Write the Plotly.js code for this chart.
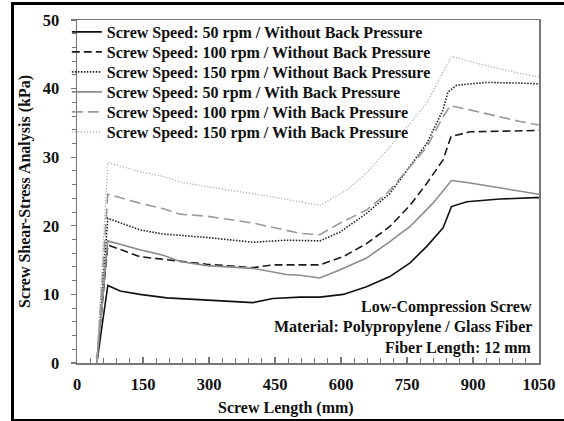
<!DOCTYPE html>
<html>
<head>
<meta charset="utf-8">
<script src="https://cdn.plot.ly/plotly-3.0.1.min.js"></script>
<style>
  html, body { margin: 0; padding: 0; background: #fff; }
  #wrap { position: relative; width: 564px; height: 421px; overflow: hidden; }
  #chart { position: absolute; left: 0; top: 0; width: 564px; height: 421px; }
  #frame { position: absolute; left: 11px; top: 2px; width: 600px; height: 414px; border: 3px solid #000; pointer-events: none; }
</style>
</head>
<body>
<div id="wrap">
  <div id="chart"></div>
  <div id="frame"></div>
</div>
<script>
// Series names
const seriesNames = [
  "Screw Speed: 50 rpm / Without Back Pressure",
  "Screw Speed: 100 rpm / Without Back Pressure",
  "Screw Speed: 150 rpm / Without Back Pressure",
  "Screw Speed: 50 rpm / With Back Pressure",
  "Screw Speed: 100 rpm / With Back Pressure",
  "Screw Speed: 150 rpm / With Back Pressure"
];

// Screw length (mm) and shear stress (kPa) for each series
const x50wo  = [45, 70, 98, 143, 204, 300, 400, 445, 507, 552, 605, 658, 711, 757, 795, 832, 851, 886, 961, 1041, 1050];
const y50wo  = [0, 11.3, 10.5, 10.0, 9.5, 9.2, 8.8, 9.4, 9.6, 9.6, 10.0, 11.1, 12.6, 14.6, 17.0, 19.7, 22.8, 23.5, 23.9, 24.1, 24.1];

const x100wo = [45, 70, 143, 234, 295, 400, 445, 552, 605, 658, 711, 757, 795, 832, 850, 893, 1007, 1050];
const y100wo = [0, 17.2, 15.5, 14.8, 14.4, 13.9, 14.3, 14.3, 15.5, 17.4, 19.9, 23.0, 26.2, 29.6, 33.0, 33.7, 33.9, 33.9];

const x150wo = [45, 70, 143, 196, 295, 400, 476, 552, 598, 658, 711, 757, 795, 832, 843, 863, 931, 1007, 1050];
const y150wo = [0, 21.1, 19.4, 18.8, 18.3, 17.6, 17.9, 17.8, 19.1, 21.8, 24.7, 28.6, 32.0, 36.9, 39.5, 40.5, 40.9, 40.8, 40.7];

const x50w   = [45, 70, 143, 196, 234, 295, 400, 476, 507, 552, 598, 658, 711, 757, 809, 851, 886, 961, 1041, 1050];
const y50w   = [0, 17.8, 16.5, 15.7, 14.8, 14.2, 13.8, 12.9, 12.8, 12.4, 13.6, 15.3, 17.7, 19.9, 23.3, 26.6, 26.3, 25.5, 24.7, 24.6];

const x100w  = [45, 70, 143, 196, 234, 295, 400, 445, 507, 552, 598, 658, 704, 750, 795, 832, 848, 893, 1007, 1050];
const y100w  = [0, 24.6, 23.3, 22.5, 21.7, 21.4, 20.4, 19.8, 18.9, 18.7, 20.4, 22.3, 24.7, 28.1, 31.5, 35.9, 37.5, 36.9, 35.2, 34.7];

const x150w  = [45, 70, 143, 196, 234, 295, 400, 476, 507, 552, 613, 658, 704, 750, 795, 851, 908, 1007, 1050];
const y150w  = [0, 29.2, 27.9, 27.2, 26.4, 25.7, 24.7, 23.8, 23.5, 23.0, 25.2, 27.7, 31.0, 34.4, 37.9, 44.7, 43.7, 42.2, 41.7];

// Tick labels
const xTicks = [0, 150, 300, 450, 600, 750, 900, 1050];
const yTicks = [0, 10, 20, 30, 40, 50];

// Annotation lines
const noteLines = ["Low-Compression Screw", "Material: Polypropylene / Glass Fiber", "Fiber Length: 12 mm"];

const FONT = "Liberation Serif";

const styles = [
  {color: "#111111", width: 1.6, dash: "solid"},
  {color: "#1a1a1a", width: 1.6, dash: "8px,4px"},
  {color: "#222222", width: 1.6, dash: "1.5px,1.5px"},
  {color: "#8c8c8c", width: 1.6, dash: "solid"},
  {color: "#9a9a9a", width: 1.6, dash: "11px,5px"},
  {color: "#aaaaaa", width: 1.2, dash: "1.2px,1.8px"}
];

const xs = [x50wo, x100wo, x150wo, x50w, x100w, x150w];
const ys = [y50wo, y100wo, y150wo, y50w, y100w, y150w];

const legendIds = ["legend", "legend2", "legend3", "legend4", "legend5", "legend6"];

const traces = seriesNames.map((n, i) => ({
  type: "scatter",
  mode: "lines",
  name: n,
  legend: legendIds[i],
  x: xs[i],
  y: ys[i],
  line: styles[i]
}));

const annotations = noteLines.map((t, i) => ({
  text: t,
  xref: "paper", yref: "y",
  x: 0.99, y: 8.2 - i * 3.0,
  xanchor: "right", yanchor: "middle",
  showarrow: false,
  font: {family: FONT, size: 16, color: "#111", weight: "bold"}
}));

annotations.push({
  text: "Screw Length (mm)",
  xref: "paper", yref: "paper",
  x: 0.452, y: -0.131,
  xanchor: "center", yanchor: "middle",
  showarrow: false,
  font: {family: FONT, size: 16, color: "#111", weight: "bold"}
});

const layout = {
  width: 564, height: 421,
  margin: {l: 77, r: 25, t: 20, b: 58},
  paper_bgcolor: "#ffffff",
  plot_bgcolor: "#ffffff",
  font: {family: FONT, size: 16, color: "#111", weight: "bold"},
  showlegend: true,
  xaxis: {
    range: [0, 1050],
    tickvals: xTicks,
    ticktext: xTicks.map(String),
    ticks: "inside", ticklen: 6, tickwidth: 1.2, tickcolor: "#777",
    minor: {dtick: 30, ticks: "inside", ticklen: 5, tickcolor: "#777", tickwidth: 1},
    showline: true, linecolor: "#777", linewidth: 1.5, mirror: true,
    showgrid: false, zeroline: false,
    ticklabelstandoff: 6,
    tickfont: {family: FONT, size: 16.5, color: "#111", weight: "bold"}
  },
  yaxis: {
    range: [0, 50],
    tickvals: yTicks,
    ticktext: yTicks.map(String),
    ticks: "outside", ticklen: 5, tickwidth: 1.2, tickcolor: "#777",
    minor: {dtick: 2, ticks: "outside", ticklen: 4, tickcolor: "#777", tickwidth: 1},
    showline: true, linecolor: "#777", linewidth: 1.5, mirror: true,
    showgrid: false, zeroline: false,
    ticklabelstandoff: 8,
    tickfont: {family: FONT, size: 16.5, color: "#111", weight: "bold"},
    title: {text: "Screw Shear-Stress Analysis (kPa)", standoff: 8,
            font: {family: FONT, size: 16, color: "#111", weight: "bold"}}
  },
  annotations: annotations
};

// one legend box per row so rows sit 20 px apart as in the reference
const plotH = 421 - 20 - 58;
legendIds.forEach((id, i) => {
  const topPx = 15 + 20 * i;          // pixel offset from figure top
  layout[id] = {
    x: -0.022, y: (363 - topPx) / plotH, xanchor: "left", yanchor: "top",
    bgcolor: "rgba(0,0,0,0)",
    font: {family: FONT, size: 16, color: "#111", weight: "bold"},
    itemwidth: 30
  };
});

Plotly.newPlot("chart", traces, layout, {displayModeBar: false, staticPlot: true});
</script>
</body>
</html>
